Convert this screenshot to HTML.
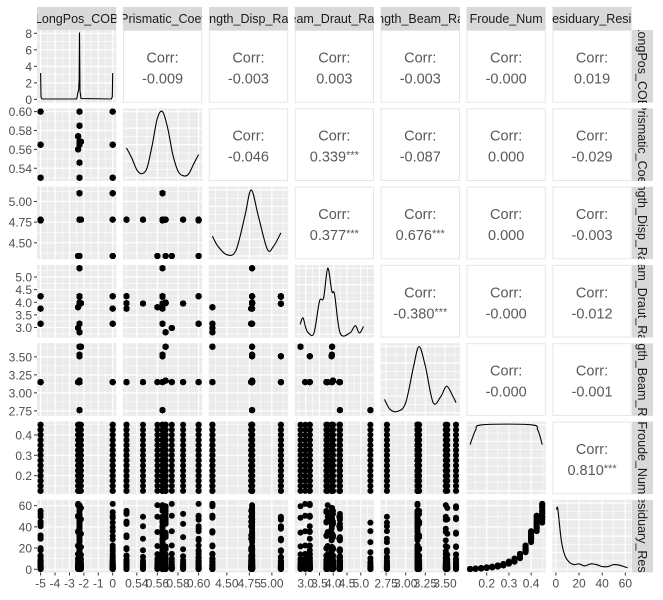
<!DOCTYPE html>
<html><head><meta charset="utf-8"><style>
body{margin:0;background:#fff;}
svg{display:block;font-family:"Liberation Sans",Arial,sans-serif;}
</style></head><body>
<svg id="chart" width="663" height="600"></svg>
<script>
// ---- data ----
const varNames = ["LongPos_COB","Prismatic_Coef","Length_Disp_Ratio","Beam_Draut_Ratio","Length_Beam_Ratio","Froude_Num","Residuary_Resist"];
const xDomains = [[-5.25,0.25],[0.5265,0.6035],[4.30,5.18],[2.6,5.48],[2.68,3.69],[0.109,0.466],[-3,65.5]];
const tickLabels = [[-5,-4,-3,-2,-1,0],[0.54,0.56,0.58,0.60],[4.50,4.75,5.00],[3.0,3.5,4.0,4.5,5.0],[2.75,3.00,3.25,3.50],[0.2,0.3,0.4],[0,20,40,60]];
const tickDecimals = [0,2,2,1,2,1,0];
const densTicks = [0,2,4,6,8];
const densDomain = [-0.4,8.4];
// hull forms: LongPos, Prismatic, LenDisp, BeamDraught, LenBeam
const hullLongPos = [-2.3,-2.3,-2.3,-2.3,-2.3,-2.3,-2.3,-2.3,-2.4,-2.4,-2.3,-2.3,-2.3,-2.3,-2.2,-5,-5,-5,0,0,0,-2.3];
const hullPrism   = [0.568,0.568,0.565,0.565,0.565,0.565,0.565,0.565,0.560,0.574,0.585,0.546,0.530,0.600,0.568,0.530,0.565,0.600,0.530,0.565,0.600,0.568];
const hullLenDisp = [4.78,4.78,4.78,4.78,4.78,4.78,5.10,5.10,4.34,4.34,4.78,4.78,4.78,4.78,4.78,4.78,4.77,4.77,4.78,5.10,4.34,4.34];
const hullBeamDr  = [3.99,3.99,5.35,3.15,4.24,3.95,3.94,4.22,3.80,2.98,3.95,3.95,3.96,4.24,3.96,4.24,3.75,3.15,3.75,4.24,3.15,2.81];
const hullLenBeam = [3.17,3.17,2.76,3.51,2.76,3.53,3.51,3.15,3.15,3.15,3.15,3.15,3.15,3.15,3.64,3.15,3.15,3.15,3.15,3.15,3.15,3.64];
const hullResidScale = [1.0,0.95,0.8,1.1,0.9,1.05,0.85,0.9,1.1,1.12,0.95,0.9,1.0,0.85,1.05,0.95,1.0,0.9,0.98,0.88,1.12,1.08];
const froudeValues = [0.125,0.15,0.175,0.2,0.225,0.25,0.275,0.3,0.325,0.35,0.375,0.4,0.425,0.45];
const residBase = [0.3,0.6,1.0,1.6,2.2,3.2,4.5,6.5,9,13,20,32,45,55];
const corrValues = {"0,1":"-0.009","0,2":"-0.003","0,3":"0.003","0,4":"-0.003","0,5":"-0.000","0,6":"0.019",
 "1,2":"-0.046","1,3":"0.339***","1,4":"-0.087","1,5":"0.000","1,6":"-0.029",
 "2,3":"0.377***","2,4":"0.676***","2,5":"0.000","2,6":"-0.003",
 "3,4":"-0.380***","3,5":"-0.000","3,6":"-0.012","4,5":"-0.000","4,6":"-0.001","5,6":"0.810***"};
const dens0 = [[-5,3.2],[-4.97,0.3],[-4.9,0.05],[-2.5,0.05],[-2.42,0.8],[-2.36,1.2],[-2.32,2.5],[-2.3,8.1],[-2.27,1.0],[-2.2,0.1],[-0.1,0.05],[-0.03,0.3],[0,3.2]];
const dens1 = [[0.530,0.45],[0.535,0.3],[0.540,0.12],[0.545,0.06],[0.550,0.15],[0.555,0.5],[0.560,0.9],[0.565,1.0],[0.570,0.75],[0.575,0.35],[0.580,0.1],[0.585,0.03],[0.590,0.05],[0.595,0.2],[0.600,0.35]];
const dens2 = [[4.34,0.3],[4.4,0.15],[4.5,0.02],[4.6,0.08],[4.7,0.6],[4.77,1],[4.85,0.6],[4.95,0.1],[5.02,0.15],[5.1,0.35]];
const dens3 = [[2.8,0.15],[2.9,0.25],[3.0,0.1],[3.1,0.02],[3.3,0.02],[3.5,0.5],[3.65,0.55],[3.8,1],[3.95,0.65],[4.05,0.6],[4.25,0.02],[4.6,0.02],[4.8,0.13],[4.95,0.02],[5.1,0.12]];
const dens4 = [[2.73,0.2],[2.8,0.05],[2.9,0.02],[3.0,0.15],[3.1,0.7],[3.17,1],[3.25,0.7],[3.35,0.15],[3.45,0.25],[3.52,0.4],[3.6,0.25],[3.64,0.15]];
const dens5 = [[0.125,0.7],[0.15,0.92],[0.18,1],[0.4,1],[0.43,0.92],[0.45,0.7]];
const dens6 = [[0.5,0.9],[1.5,0.93],[3,0.7],[5,0.4],[8,0.2],[12,0.1],[16,0.07],[20,0.08],[25,0.05],[30,0.08],[35,0.07],[40,0.04],[45,0.04],[50,0.07],[55,0.06],[62,0.02]];
const densities = [dens0,dens1,dens2,dens3,dens4,dens5,dens6];

// ---- build rows ----
const rows = [];
for (let h=0; h<hullLongPos.length; h++) for (let f=0; f<froudeValues.length; f++)
  rows.push([hullLongPos[h],hullPrism[h],hullLenDisp[h],hullBeamDr[h],hullLenBeam[h],froudeValues[f],residBase[f]*hullResidScale[h]]);

// ---- layout ----
const NS="http://www.w3.org/2000/svg";
const svg=document.getElementById('chart');
const L=37, T=30, PW=79.3, PH=72.7, GX=6.6, GY=5.6;
function mk(tag,attrs,parent){const e=document.createElementNS(NS,tag);for(const k in attrs)e.setAttribute(k,attrs[k]);(parent||svg).appendChild(e);return e;}
const px=(c)=>L+c*(PW+GX), py=(r)=>T+r*(PH+GY);
function sx(c,v){const d=xDomains[c];return px(c)+(v-d[0])/(d[1]-d[0])*PW;}
function sy(r,v){const d=xDomains[r];return py(r)+PH-(v-d[0])/(d[1]-d[0])*PH;}
function syN(r,v){return py(r)+PH-(v+0.05)/1.1*PH;}
function syD(v){return py(0)+PH-(v-densDomain[0])/(densDomain[1]-densDomain[0])*PH;}
function smoothPath(p){
  let d='M'+p[0][0].toFixed(1)+','+p[0][1].toFixed(1);
  for(let i=0;i<p.length-1;i++){
    const p0=p[Math.max(0,i-1)],p1=p[i],p2=p[i+1],p3=p[Math.min(p.length-1,i+2)];
    const c1=[p1[0]+(p2[0]-p0[0])/6,p1[1]+(p2[1]-p0[1])/6];
    const c2=[p2[0]-(p3[0]-p1[0])/6,p2[1]-(p3[1]-p1[1])/6];
    d+=' C'+c1[0].toFixed(1)+','+c1[1].toFixed(1)+' '+c2[0].toFixed(1)+','+c2[1].toFixed(1)+' '+p2[0].toFixed(1)+','+p2[1].toFixed(1);
  }
  return d;
}

function gridBg(r,c){
  const g=mk('g',{});
  
  
  mk('rect',{x:px(c),y:py(r),width:PW,height:PH,fill:'#ebebeb'},g);
  const tk=tickLabels[c];const step=tk[1]-tk[0];
  for(let i=-1;i<tk.length;i++){
    [tk[0]+i*step+step/2].concat(i>=0?[tk[i]]:[]).forEach((v,j)=>{
      const x=sx(c,v); if(x<px(c)||x>px(c)+PW)return;
      mk('line',{x1:x,x2:x,y1:py(r),y2:py(r)+PH,stroke:'#fff','stroke-width':(j==0?0.6:1.2)},g);});
  }
  let yt, yf;
  if(r==c){ if(r==0){yt=densTicks;yf=syD;} else {yt=[0,0.25,0.5,0.75,1];yf=(rr,v)=>syN(rr,v);} }
  else {yt=tickLabels[r];yf=sy;}
  const ys=yt[1]-yt[0];
  for(let i=-1;i<yt.length;i++){
    [yt[0]+i*ys+ys/2].concat(i>=0?[yt[i]]:[]).forEach((v,j)=>{
      const y=(r==0&&c==0)?syD(v):yf(r,v); if(y<py(r)||y>py(r)+PH)return;
      mk('line',{x1:px(c),x2:px(c)+PW,y1:y,y2:y,stroke:'#fff','stroke-width':(j==0?0.6:1.2)},g);});
  }
  return g;
}

for(let r=0;r<7;r++)for(let c=0;c<7;c++){
  if(c>r){
    const g=mk('g',{});
    
    
    mk('rect',{x:px(c)+0.5,y:py(r)+0.5,width:PW-1,height:PH-1,fill:'#fff',stroke:'#e6e6e6','stroke-width':1},g);
    const t1=mk('text',{x:px(c)+PW/2,y:py(r)+PH/2-4,'text-anchor':'middle','font-size':14.5,fill:'#595959'},g);t1.textContent='Corr:';
    const t2=mk('text',{x:px(c)+PW/2,y:py(r)+PH/2+17,'text-anchor':'middle','font-size':14.5,fill:'#595959'},g);
    const v=corrValues[r+','+c];const m=v.indexOf('*');
    if(m<0)t2.textContent=v;else{t2.textContent=v.slice(0,m);const s=mk('tspan',{'font-size':11,dy:-3},t2);s.textContent=v.slice(m);}
  } else if(c==r){
    const g=gridBg(r,c);
    const d=densities[c];
    const pts=d.map(p=>[sx(c,p[0]),(r==0?syD(p[1]):syN(r,p[1]))]);
    const pl=mk('path',{d:(r==0?('M'+pts.map(p=>p[0].toFixed(1)+','+p[1].toFixed(1)).join(' L')):smoothPath(pts)),fill:'none',stroke:'#000','stroke-width':1.1},g);
    
    
  } else {
    const g=gridBg(r,c);
    rows.forEach(row=>{
      const p=mk('circle',{cx:sx(c,row[c]).toFixed(1),cy:sy(r,row[r]).toFixed(1),r:3,fill:'#000'},g);
      
      
    });
  }
}
// strips
const defs=mk('defs',{});
for(let i=0;i<7;i++){
  const cp=mk('clipPath',{id:'ct'+i},defs);mk('rect',{x:px(i),y:7,width:PW,height:23},cp);
  const cr=mk('clipPath',{id:'cr'+i},defs);mk('rect',{x:632,y:py(i),width:21,height:PH},cr);
  const g=mk('g',{'clip-path':'url(#ct'+i+')'});
  
  
  mk('rect',{x:px(i),y:7,width:PW,height:23,fill:'#d9d9d9'},g);
  const t=mk('text',{x:px(i)+PW/2,y:23,'text-anchor':'middle','font-size':12.5,fill:'#1a1a1a'},g);t.textContent=varNames[i];
  const g2=mk('g',{'clip-path':'url(#cr'+i+')'});
  
  
  mk('rect',{x:632,y:py(i),width:21,height:PH,fill:'#d9d9d9'},g2);
  const cy=py(i)+PH/2;
  const t2=mk('text',{x:638,y:cy,'text-anchor':'middle','font-size':12.5,fill:'#1a1a1a',transform:'rotate(90 638 '+cy+')'},g2);t2.textContent=varNames[i];
}
// axes
for(let c=0;c<7;c++){
  const g=mk('g',{});
  
  
  tickLabels[c].forEach(v=>{const x=sx(c,v);
    mk('line',{x1:x,x2:x,y1:py(6)+PH,y2:py(6)+PH+3,stroke:'#333'},g);
    const t=mk('text',{x:x,y:py(6)+PH+15,'text-anchor':'middle','font-size':12,fill:'#4d4d4d'},g);t.textContent=v.toFixed(tickDecimals[c]);});
}
for(let r=0;r<7;r++){
  const g=mk('g',{});
  
  
  const tk=r==0?densTicks:tickLabels[r];
  tk.forEach(v=>{const y=r==0?syD(v):sy(r,v);
    mk('line',{x1:L-3,x2:L,y1:y,y2:y,stroke:'#333'},g);
    const t=mk('text',{x:L-5,y:y+4.5,'text-anchor':'end','font-size':12,fill:'#4d4d4d'},g);t.textContent=r==0?v:v.toFixed(tickDecimals[r]);});
}
</script>
</body></html>
